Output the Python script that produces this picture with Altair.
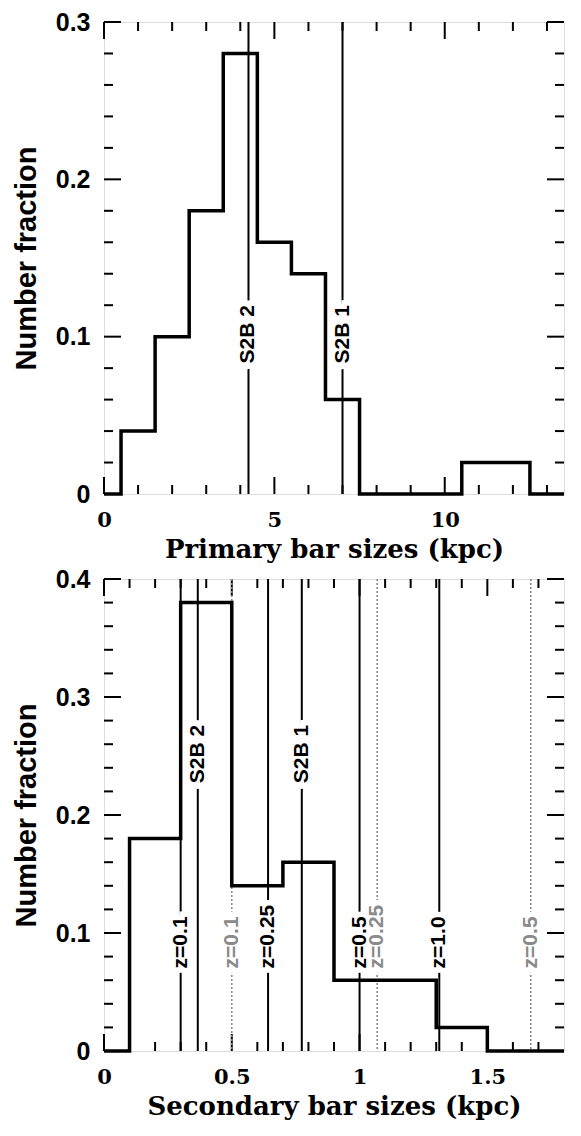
import altair as alt
import pandas as pd

# ---------------- data ----------------
# Primary bars (top panel): histogram bin edges and number fractions
p_edges = [0, 0.5, 1.5, 2.5, 3.5, 4.5, 5.5, 6.5, 7.5, 10.5, 11.5, 12.5, 13.5]
p_frac = [0, 0.04, 0.10, 0.18, 0.28, 0.16, 0.14, 0.06, 0, 0.02, 0.02, 0, 0]
p_lines = [4.24, 7.0]
p_line_labels = ["S2B 2", "S2B 1"]
p_label_y = [0.083, 0.083]

# Secondary bars (bottom panel)
s_edges = [0, 0.1, 0.3, 0.5, 0.7, 0.9, 1.1, 1.3, 1.5, 1.8]
s_frac = [0, 0.18, 0.38, 0.14, 0.16, 0.06, 0.06, 0.02, 0, 0]
s_lines = [0.3, 0.367, 0.642, 0.774, 1.0, 1.312]
s_line_labels = ["z=0.1", "S2B 2", "z=0.25", "S2B 1", "z=0.5", "z=1.0"]
s_label_y = [0.07, 0.227, 0.07, 0.227, 0.07, 0.07]
s_dot_lines = [0.5, 1.069, 1.67]
s_dot_labels = ["z=0.1", "z=0.25", "z=0.5"]
s_dot_label_y = [0.07, 0.07, 0.07]

# tick values
p_xmajor = [0, 5, 10]
p_xminor = [1, 2, 3, 4, 6, 7, 8, 9, 11, 12, 13]
p_ymajor = [0, 0.1, 0.2, 0.3]
p_yminor = [0.02, 0.04, 0.06, 0.08, 0.12, 0.14, 0.16, 0.18, 0.22, 0.24, 0.26, 0.28]
s_xmajor = [0, 0.5, 1, 1.5]
s_xminor = [0.1, 0.2, 0.3, 0.4, 0.6, 0.7, 0.8, 0.9, 1.1, 1.2, 1.3, 1.4, 1.6, 1.7]
s_ymajor = [0, 0.1, 0.2, 0.3, 0.4]
s_yminor = [0.02, 0.04, 0.06, 0.08, 0.12, 0.14, 0.16, 0.18, 0.22, 0.24, 0.26,
            0.28, 0.32, 0.34, 0.36, 0.38]

W, H = 460, 472
MAJ, MIN = 17, 9
SANS = "Liberation Sans"
SERIF = "DejaVu Serif"
LABFONT = "Liberation Sans"
GRAY = "#8a8a8a"


def panel(edges, frac, xdom, ydom, xmaj, xmin, ymaj, ymin,
          solid, solid_lab, solid_y, dotted, dotted_lab, dotted_y, xtitle):
    xaxis = alt.Axis(values=xmaj, labelExpr="'' + datum.value", ticks=False, tickSize=0,
                     domain=False, grid=False, labelFont=SERIF, labelFontWeight="bold",
                     labelFontSize=21, labelColor="black", labelPadding=15,
                     labelFlush=False, labelOverlap=False, title=xtitle, titleFont=SERIF,
                     titleFontWeight="bold", titleFontSize=26, titleColor="black",
                     titlePadding=6)
    yaxis = alt.Axis(values=ymaj, labelExpr="'' + datum.value", ticks=False, tickSize=0,
                     domain=False, grid=False, labelFont=SANS, labelFontWeight="bold",
                     labelFontSize=25, labelColor="black", labelPadding=14,
                     labelFlush=False, labelOverlap=False, title="Number fraction",
                     titleFont=SANS, titleFontWeight="bold", titleFontSize=29,
                     titleColor="black", titlePadding=14)
    xs = alt.Scale(domain=xdom, nice=False, zero=False)
    ys = alt.Scale(domain=ydom, nice=False, zero=False)

    def X():
        return alt.X("x:Q", scale=xs, axis=xaxis)

    def Y():
        return alt.Y("y:Q", scale=ys, axis=yaxis)

    layers = []
    # inward ticks on all four sides
    for vals, ln in ((xmaj, MAJ), (xmin, MIN)):
        d = pd.DataFrame({"x": vals})
        layers.append(alt.Chart(d).mark_rule(color="black", strokeWidth=2).encode(
            x=X(), y=alt.value(H), y2=alt.value(H - ln)))
        layers.append(alt.Chart(d).mark_rule(color="black", strokeWidth=2).encode(
            x=X(), y=alt.value(0), y2=alt.value(ln)))
    for vals, ln in ((ymaj, MAJ), (ymin, MIN)):
        d = pd.DataFrame({"y": vals})
        layers.append(alt.Chart(d).mark_rule(color="black", strokeWidth=2).encode(
            y=Y(), x=alt.value(0), x2=alt.value(ln)))
        layers.append(alt.Chart(d).mark_rule(color="black", strokeWidth=2).encode(
            y=Y(), x=alt.value(W), x2=alt.value(W - ln)))

    # reference lines
    if dotted:
        dd = pd.DataFrame({"x": dotted, "y": dotted_y, "t": dotted_lab})
        layers.append(alt.Chart(dd).mark_rule(color=GRAY, strokeWidth=1.6,
                                              strokeDash=[2, 2]).encode(x=X()))
    sd = pd.DataFrame({"x": solid, "y": solid_y, "t": solid_lab})
    layers.append(alt.Chart(sd).mark_rule(color="black", strokeWidth=2).encode(x=X()))

    # white halos behind labels (gap in the lines)
    txt = dict(angle=270, align="left", baseline="middle", font=LABFONT,
               fontSize=21, fontWeight="bold")
    halo_frames = [sd] + ([dd] if dotted else [])
    for f in halo_frames:
        layers.append(alt.Chart(f).mark_text(fill="white", stroke="white",
                                             strokeWidth=11, **txt).encode(
            x=X(), y=Y(), text="t:N"))

    # histogram outline
    hd = pd.DataFrame({"x": edges, "y": frac})
    layers.append(alt.Chart(hd).mark_line(interpolate="step-after", color="black",
                                          strokeWidth=3.5).encode(x=X(), y=Y()))

    # labels
    layers.append(alt.Chart(sd).mark_text(color="black", **txt).encode(
        x=X(), y=Y(), text="t:N"))
    if dotted:
        layers.append(alt.Chart(dd).mark_text(color=GRAY, **txt).encode(
            x=X(), y=Y(), text="t:N"))

    return alt.layer(*layers).properties(width=W, height=H)


top = panel(p_edges, p_frac, [0, 13.5], [0, 0.3], p_xmajor, p_xminor, p_ymajor, p_yminor,
            p_lines, p_line_labels, p_label_y, [], [], [], "Primary bar sizes (kpc)")
bottom = panel(s_edges, s_frac, [0, 1.8], [0, 0.4], s_xmajor, s_xminor, s_ymajor, s_yminor,
               s_lines, s_line_labels, s_label_y, s_dot_lines, s_dot_labels, s_dot_label_y,
               "Secondary bar sizes (kpc)")

chart = alt.vconcat(top, bottom, spacing=3,
                    padding={"left": 3, "top": 1, "right": 0, "bottom": 0}).configure_view(
    stroke="black", strokeWidth=2
).configure(background="white")

chart.save("out.html", embed_options={"renderer": "svg", "actions": False})
